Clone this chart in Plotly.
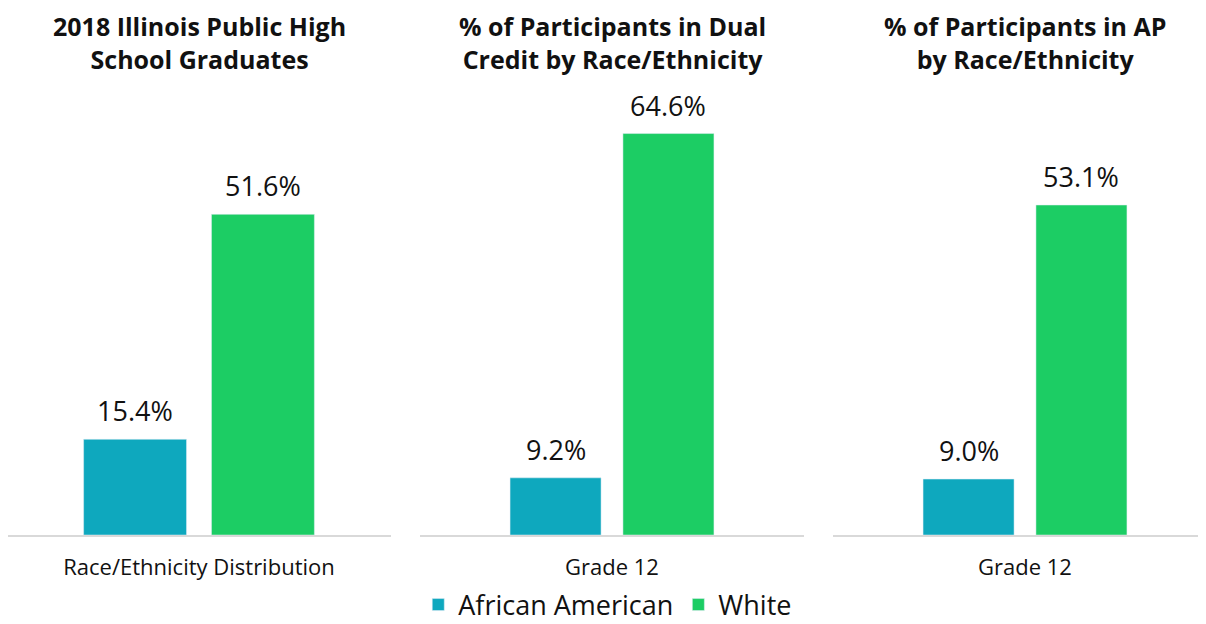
import plotly.graph_objects as go

# --- data ---
panel_titles = [
    "2018 Illinois Public High<br>School Graduates",
    "% of Participants in Dual<br>Credit by Race/Ethnicity",
    "% of Participants in AP<br>by Race/Ethnicity",
]
categories = ["Race/Ethnicity Distribution", "Grade 12", "Grade 12"]
african_american = [15.4, 9.2, 9.0]
white = [51.6, 64.6, 53.1]

# --- styling ---
BLUE = "#0EA8BE"
GREEN = "#1CCD64"
FONT = "Open Sans"
TXT = "#111111"
# page body keeps its default 8px margin, so the figure sits 8px in from the corner
W, H = 1190, 616

# panel extents and category centre, in figure pixels
panels_px = [(0, 383, 191), (412, 796, 604), (825, 1190, 1017)]
unit_px = 384
bar_w = [0.268, 0.237, 0.237]
bar_gap = [0.065, 0.057, 0.057]
y_domain = [(H - 527) / H, (H - 92) / H]
y_max = 70

fig = go.Figure()
annotations = []

for i in range(3):
    ax = "" if i == 0 else str(i + 1)
    w = bar_w[i]
    g = bar_gap[i]
    series = [
        ("African American", african_american[i], BLUE, -w - g / 2),
        ("White", white[i], GREEN, g / 2),
    ]
    for name, val, color, off in series:
        fig.add_trace(go.Bar(
            x=[categories[i]],
            y=[val],
            name=name,
            marker_color=color,
            width=[w],
            offset=[off],
            xaxis="x" + ax,
            yaxis="y" + ax,
            legendgroup=name,
            showlegend=(i == 0),
            hoverinfo="skip",
        ))
        annotations.append(dict(
            x=off + w / 2, y=val, xref="x" + ax, yref="y" + ax,
            text=f"{val:.1f}%", showarrow=False,
            xanchor="center", yanchor="bottom", yshift=8,
            font=dict(family=FONT, size=27, color=TXT),
        ))

    left, right, centre = panels_px[i]
    annotations.append(dict(
        x=centre / W, y=1, xref="paper", yref="paper",
        text=f"<b>{panel_titles[i]}</b>", showarrow=False,
        xanchor="center", yanchor="top", yshift=0, borderpad=0,
        font=dict(family=FONT, size=25, color=TXT),
    ))

    fig.update_layout({
        "xaxis" + ax: dict(
            domain=[left / W, right / W],
            range=[(left - centre) / unit_px, (right - centre) / unit_px],
            showline=True, linecolor="#D9D9D9", linewidth=2,
            ticks="", showgrid=False, zeroline=False,
            tickfont=dict(family=FONT, size=22, color=TXT),
            ticklabelstandoff=12,
            anchor="y" + ax,
            fixedrange=True,
        ),
        "yaxis" + ax: dict(
            domain=y_domain,
            range=[0, y_max],
            visible=False,
            anchor="x" + ax,
        ),
    })

fig.update_layout(
    width=W, height=H,
    margin=dict(l=0, r=0, t=0, b=0, autoexpand=False),
    plot_bgcolor="white",
    paper_bgcolor="white",
    barmode="overlay",
    annotations=annotations,
    font=dict(family=FONT, color=TXT),
    legend=dict(
        orientation="h",
        x=0.504, xanchor="center",
        y=(H - 597) / H, yanchor="middle",
        itemwidth=30,
        font=dict(family=FONT, size=27, color=TXT),
        traceorder="normal",
    ),
)

fig.write_html("out.html")
